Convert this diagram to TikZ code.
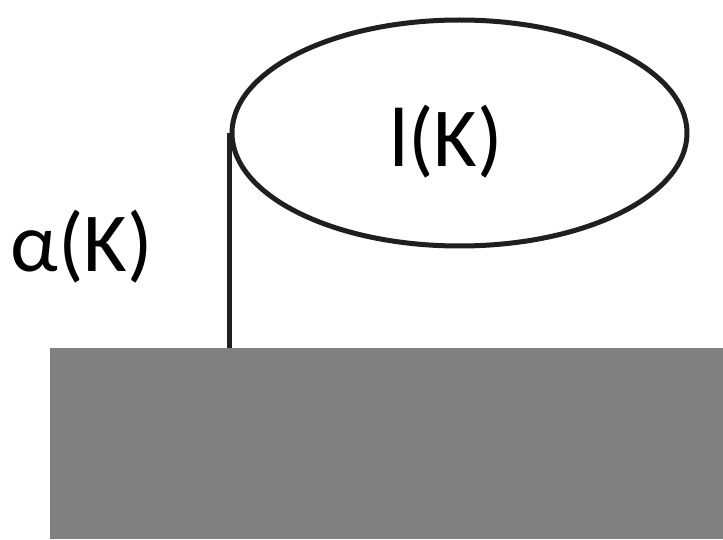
\documentclass[tikz,border=0pt]{standalone}
\usepackage{fontspec}
\setmainfont{Carlito}
\usetikzlibrary{shapes.geometric}
\tikzset{
  outline/.style={draw=black!88, line width=5pt},
  bigtext/.style={font=\fontsize{84}{84}\selectfont, inner sep=0pt, anchor=base},
}
\begin{document}
\begin{tikzpicture}[x=1pt,y=1pt]
  \useasboundingbox (0,0) rectangle (723,539);
  % grey base block
  \node[fill=black!50, draw=none, minimum width=673pt, minimum height=191pt,
        inner sep=0pt, anchor=south west] (base) at (50,0) {};
  % ellipse on top
  \node[ellipse, outline, minimum width=455pt, minimum height=226pt,
        inner sep=0pt] (ell) at (459.5,406) {};
  % stem from the ellipse down to the block
  \draw[outline, line cap=butt] (ell.west) -- (ell.west |- base.north);
  % labels
  \node[bigtext] (lk) at (446,372) {l(K)};
  \node[bigtext] (ak) at (82,267) {α(K)};
\end{tikzpicture}
\end{document}
